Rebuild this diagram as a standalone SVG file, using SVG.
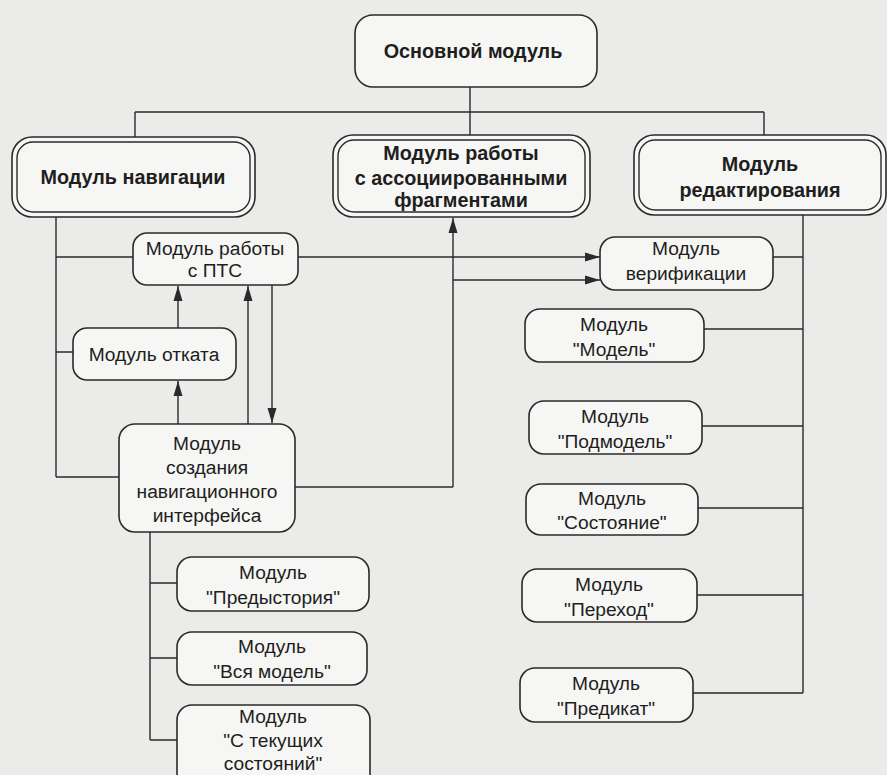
<svg xmlns="http://www.w3.org/2000/svg" width="887" height="775" viewBox="0 0 887 775">
<defs>
<marker id="ah" markerUnits="userSpaceOnUse" markerWidth="16" markerHeight="10" refX="15" refY="5" orient="auto">
<path d="M0,0.5 L15,5 L0,9.5 Z" fill="#2a2a2a"/>
</marker>
<style>
.bg{fill:#ebebea}
.box{fill:#f6f6f4;stroke:#2a2a2a;stroke-width:1.6}
.in{fill:none;stroke:#2a2a2a;stroke-width:1.4}
.ln{fill:none;stroke:#2a2a2a;stroke-width:1.4}
.ar{fill:none;stroke:#2a2a2a;stroke-width:1.4;marker-end:url(#ah)}
text{font-family:"Liberation Sans",Arial,sans-serif;font-size:19.2px;fill:#1e1e1e;text-anchor:middle}
.b{font-weight:bold;font-size:19.8px}
</style>
</defs>
<rect class="bg" x="0" y="0" width="887" height="775"/>
<g id="connectors">
<path class="ln" d="M470,87 V135 M135,112 H764 M135,112 V137 M764,112 V135"/>
<path class="ln" d="M56,217 V477 M56,257 H133 M56,352 H73 M56,477 H119"/>
<path class="ar" d="M298,257 H600"/>
<path class="ln" d="M295,487 H453"/>
<path class="ar" d="M453,487 V218"/>
<path class="ar" d="M453,280 H600"/>
<path class="ar" d="M178,328 V286"/>
<path class="ar" d="M178,424 V381"/>
<path class="ar" d="M248,424 V286"/>
<path class="ar" d="M272,285 V423"/>
<path class="ln" d="M803,214 V693 M773,257 H803 M704,329 H803 M702,426 H803 M698,508 H803 M697,595 H803 M693,693 H803"/>
<path class="ln" d="M150,532 V740 M150,583 H177 M150,658 H177 M150,740 H177"/>
</g>
<g id="main">
<rect class="box" x="355" y="15" width="242" height="72" rx="18"/>
<text class="b" x="473" y="58">Основной  модуль</text>
</g>
<g id="nav">
<rect class="box" x="12" y="137" width="243" height="80" rx="20"/>
<rect class="in" x="17" y="142" width="233" height="70" rx="16"/>
<text class="b" x="133" y="184">Модуль навигации</text>
</g>
<g id="assoc">
<rect class="box" x="333" y="135" width="257" height="82" rx="20"/>
<rect class="in" x="338" y="140" width="247" height="72" rx="16"/>
<text class="b" x="461" y="160">Модуль работы</text>
<text class="b" x="461" y="185">с ассоциированными</text>
<text class="b" x="461" y="207">фрагментами</text>
</g>
<g id="edit">
<rect class="box" x="634" y="135" width="252" height="80" rx="20"/>
<rect class="in" x="639" y="140" width="242" height="70" rx="16"/>
<text class="b" x="760" y="171">Модуль</text>
<text class="b" x="760" y="197">редактирования</text>
</g>
<g id="pts">
<rect class="box" x="133" y="233" width="165" height="52" rx="14"/>
<text x="215" y="255">Модуль работы</text>
<text x="215" y="277">с ПТС</text>
</g>
<g id="otkat">
<rect class="box" x="73" y="328" width="163" height="52" rx="14"/>
<text x="154" y="361">Модуль отката</text>
</g>
<g id="navif">
<rect class="box" x="119" y="424" width="176" height="108" rx="16"/>
<text x="207" y="450">Модуль</text>
<text x="207" y="474">создания</text>
<text x="207" y="498">навигационного</text>
<text x="207" y="522">интерфейса</text>
</g>
<g id="verif">
<rect class="box" x="600" y="237" width="173" height="53" rx="15"/>
<text x="686" y="255">Модуль</text>
<text x="686" y="280">верификации</text>
</g>
<g id="model">
<rect class="box" x="525" y="309" width="179" height="53" rx="15"/>
<text x="614" y="331">Модуль</text>
<text x="614" y="356">"Модель"</text>
</g>
<g id="podmodel">
<rect class="box" x="529" y="401" width="173" height="53" rx="15"/>
<text x="615" y="423">Модуль</text>
<text x="615" y="448">"Подмодель"</text>
</g>
<g id="sost">
<rect class="box" x="526" y="484" width="172" height="51" rx="15"/>
<text x="612" y="505">Модуль</text>
<text x="612" y="529">"Состояние"</text>
</g>
<g id="perehod">
<rect class="box" x="522" y="569" width="175" height="53" rx="15"/>
<text x="609" y="591">Модуль</text>
<text x="609" y="616">"Переход"</text>
</g>
<g id="predikat">
<rect class="box" x="520" y="668" width="173" height="54" rx="15"/>
<text x="606" y="690">Модуль</text>
<text x="606" y="715">"Предикат"</text>
</g>
<g id="predist">
<rect class="box" x="177" y="557" width="192" height="54" rx="15"/>
<text x="273" y="579">Модуль</text>
<text x="273" y="604">"Предыстория"</text>
</g>
<g id="vsya">
<rect class="box" x="177" y="632" width="190" height="53" rx="15"/>
<text x="272" y="653">Модуль</text>
<text x="272" y="678">"Вся модель"</text>
</g>
<g id="tekush">
<rect class="box" x="177" y="705" width="193" height="90" rx="15"/>
<text x="273" y="723">Модуль</text>
<text x="273" y="747">"С текущих</text>
<text x="273" y="770">состояний"</text>
</g>
</svg>
